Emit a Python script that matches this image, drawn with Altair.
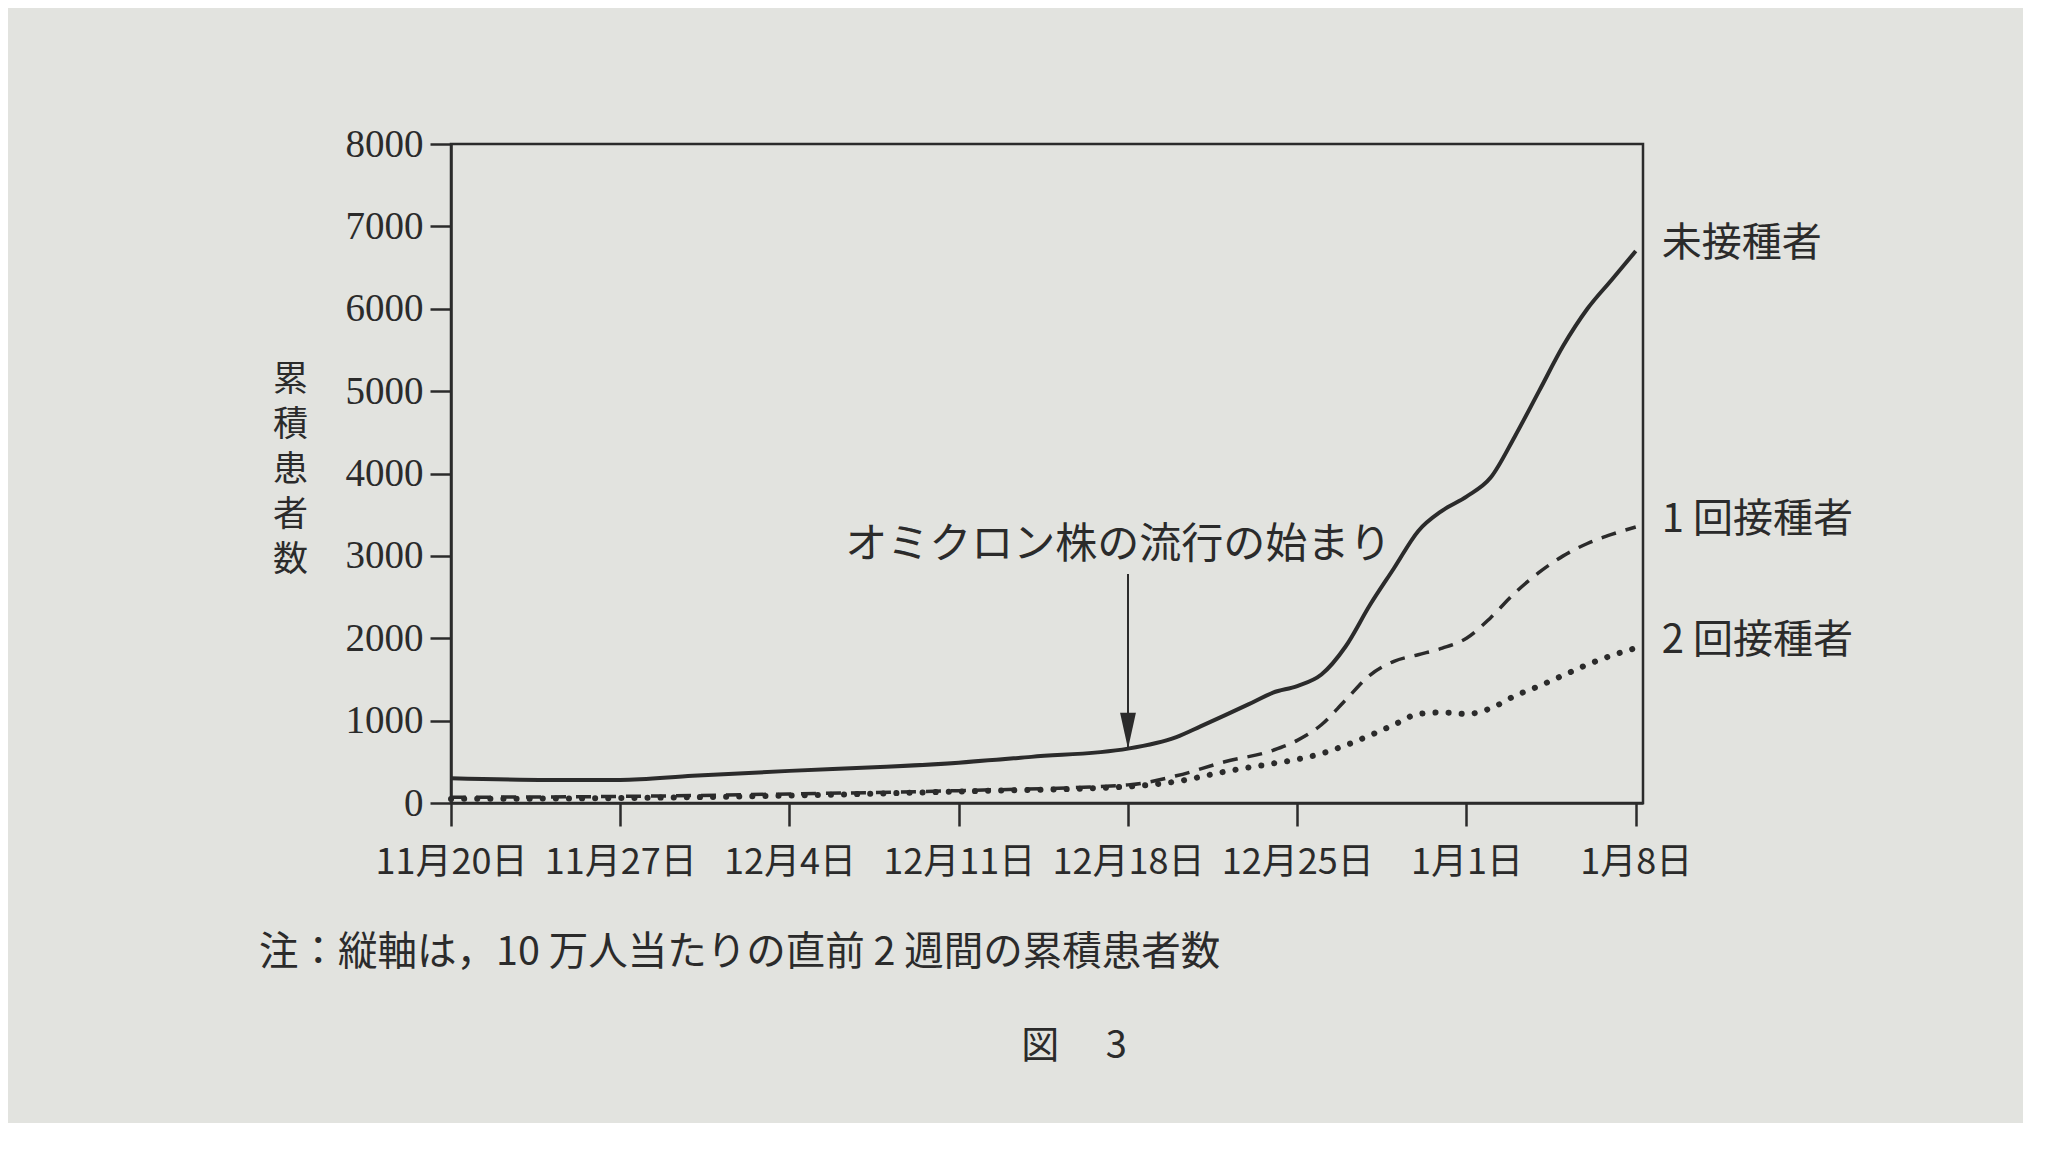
import altair as alt
import pandas as pd

# ---------------- data ----------------
START = "2021-11-20"
series_names = ["未接種者", "1 回接種者", "2 回接種者"]

dates_unvacc = ["2021-11-20", "2021-11-24", "2021-11-27", "2021-11-30", "2021-12-04", "2021-12-08",
                "2021-12-11", "2021-12-14", "2021-12-18", "2021-12-20", "2021-12-21", "2021-12-23",
                "2021-12-24", "2021-12-25", "2021-12-26", "2021-12-27", "2021-12-28", "2021-12-29",
                "2021-12-30", "2021-12-31", "2022-01-01", "2022-01-02", "2022-01-03", "2022-01-04",
                "2022-01-05", "2022-01-06", "2022-01-07", "2022-01-08"]
values_unvacc = [300, 280, 280, 330, 390, 440, 490, 560, 660, 800, 930, 1200, 1340, 1420, 1560,
                 1900, 2400, 2850, 3300, 3550, 3720, 3950, 4450, 5000, 5550, 6000, 6350, 6700]

dates_one = ["2021-11-20", "2021-11-27", "2021-12-04", "2021-12-11", "2021-12-18", "2021-12-20",
             "2021-12-22", "2021-12-24", "2021-12-25", "2021-12-26", "2021-12-27", "2021-12-28",
             "2021-12-29", "2021-12-30", "2021-12-31", "2022-01-01", "2022-01-02", "2022-01-03",
             "2022-01-04", "2022-01-05", "2022-01-06", "2022-01-07", "2022-01-08"]
values_one = [70, 80, 110, 150, 220, 330, 500, 640, 760, 950, 1250, 1550, 1720, 1800, 1880, 2000,
              2250, 2550, 2800, 3000, 3150, 3260, 3350]

dates_two = ["2021-11-20", "2021-11-27", "2021-12-04", "2021-12-11", "2021-12-18", "2021-12-20",
             "2021-12-22", "2021-12-24", "2021-12-25", "2021-12-26", "2021-12-27", "2021-12-28",
             "2021-12-29", "2021-12-30", "2021-12-31", "2022-01-01", "2022-01-02", "2022-01-03",
             "2022-01-04", "2022-01-05", "2022-01-06", "2022-01-07", "2022-01-08"]
values_two = [50, 60, 90, 140, 200, 260, 380, 480, 530, 600, 700, 820, 950, 1080, 1100, 1080,
              1150, 1300, 1420, 1550, 1680, 1790, 1880]

tick_days = [0, 7, 14, 21, 28, 35, 42, 49]
tick_labels = ["11月20日", "11月27日", "12月4日", "12月11日", "12月18日", "12月25日", "1月1日", "1月8日"]
y_ticks = [0, 1000, 2000, 3000, 4000, 5000, 6000, 7000, 8000]

annot_text = "オミクロン株の流行の始まり"
annot_date = "2021-12-18"
annot_text_day = 27.6
annot_text_value = 3130
arrow_top_value = 2780
arrow_tip_value = 660

note_text = "注：縦軸は，10 万人当たりの直前 2 週間の累積患者数"
fig_text = "図　 3"
y_title = ["累", "積", "患", "者", "数"]

# ---------------- build tables ----------------
start = pd.Timestamp(START)

def to_days(ds):
    return [(pd.Timestamp(d) - start).days for d in ds]

frames = []
for name, ds, vs in [(series_names[0], dates_unvacc, values_unvacc),
                     (series_names[1], dates_one, values_one),
                     (series_names[2], dates_two, values_two)]:
    frames.append(pd.DataFrame({"series": name, "day": to_days(ds), "value": vs}))
df = pd.concat(frames, ignore_index=True)
end_df = df.loc[df.groupby("series")["day"].idxmax()].reset_index(drop=True)

annot_day = (pd.Timestamp(annot_date) - start).days
arrow_df = pd.DataFrame({"day": [annot_day], "top": [arrow_top_value], "tip": [arrow_tip_value]})
annot_df = pd.DataFrame({"day": [annot_text_day], "value": [annot_text_value], "label": [annot_text]})

INK = "#2b2b2b"
BG = "#e2e3df"
JP = "Noto Sans CJK JP"
NUM = "Liberation Serif"

label_expr = "[" + ",".join("'" + s + "'" for s in tick_labels) + "][round(datum.value/7)]"

x_enc = alt.X("day:Q",
              scale=alt.Scale(domain=[0, 49.3], nice=False, zero=False),
              axis=alt.Axis(values=tick_days, labelExpr=label_expr, title=None, grid=False,
                            tickSize=23, tickWidth=2.5, domainWidth=2.5, tickColor=INK,
                            domainColor=INK, labelColor=INK, labelFont=JP, labelFontSize=36,
                            labelPadding=19, labelFlush=False))
y_enc = alt.Y("value:Q",
              scale=alt.Scale(domain=[0, 8000], nice=False),
              axis=alt.Axis(values=y_ticks, title=y_title, grid=False, format="d",
                            tickSize=21, tickWidth=2.5, domainWidth=2.5, tickColor=INK,
                            domainColor=INK, labelColor=INK, labelFont=NUM, labelFontSize=39,
                            labelPadding=7, titleAngle=0, titleX=-161, titleY=235,
                            titleAlign="center", titleBaseline="middle", titleFont=JP,
                            titleFontSize=35, titleFontWeight="normal", titleColor=INK,
                            titleLineHeight=45))

base = alt.Chart(df)

solid = base.transform_filter(alt.datum.series == series_names[0]).mark_line(
    color=INK, strokeWidth=4, interpolate="monotone").encode(x=x_enc, y=y_enc)
dashed = base.transform_filter(alt.datum.series == series_names[1]).mark_line(
    color=INK, strokeWidth=3.5, strokeDash=[15, 10], interpolate="monotone").encode(x="day:Q", y="value:Q")
dotted = base.transform_filter(alt.datum.series == series_names[2]).mark_line(
    color=INK, strokeWidth=6, strokeDash=[0.1, 13], strokeCap="round",
    interpolate="monotone").encode(x="day:Q", y="value:Q")

end_labels = alt.Chart(end_df).mark_text(
    align="left", baseline="middle", dx=26, dy=-7, font=JP, fontSize=40, color=INK
).encode(x="day:Q", y="value:Q", text="series:N")

arrow_line = alt.Chart(arrow_df).mark_rule(color=INK, strokeWidth=2).encode(
    x="day:Q", y="top:Q", y2="tip:Q")
arrow_head = alt.Chart(arrow_df).mark_point(
    shape="M-0.22,-1L0.22,-1L0,0Z", size=5184, filled=True, opacity=1, color=INK, strokeWidth=0
).encode(x="day:Q", y="tip:Q")

annot = alt.Chart(annot_df).mark_text(
    align="center", baseline="middle", font=JP, fontSize=42, color=INK
).encode(x="day:Q", y="value:Q", text="label:N")

note = alt.Chart(annot_df).mark_text(
    align="left", baseline="middle", font=JP, fontSize=39.5, color=INK, text=note_text
).encode(x=alt.value(-192), y=alt.value(809))
fig = alt.Chart(annot_df).mark_text(
    align="center", baseline="middle", font=JP, fontSize=38, color=INK, text=fig_text
).encode(x=alt.value(623), y=alt.value(903))

chart = alt.layer(solid, dashed, dotted, end_labels, arrow_line, arrow_head, annot, note, fig).properties(
    width=1192, height=659,
    autosize=alt.AutoSizeParams(type="none"),
    padding={"left": 443, "top": 136, "right": 380, "bottom": 320},
    background=BG,
).configure_view(stroke=INK, strokeWidth=2.5)

chart.save("out.html", embed_options={"renderer": "svg", "actions": False})
